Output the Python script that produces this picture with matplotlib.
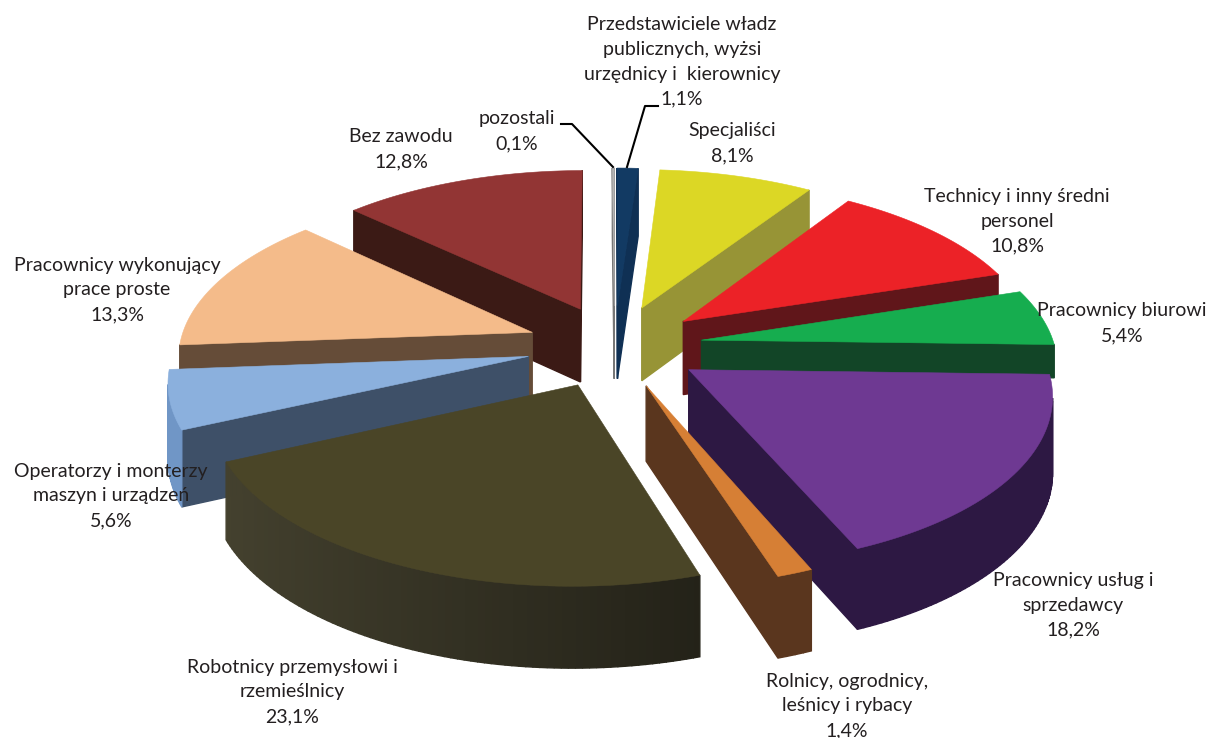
import numpy as np
from matplotlib import pyplot as plt
from matplotlib.colors import to_rgb

names = ['Przedstawiciele władz\npublicznych, wyżsi\nurzędnicy i  kierownicy', 'Specjaliści',
         'Technicy i inny średni\npersonel', 'Pracownicy biurowi', 'Pracownicy usług i\nsprzedawcy',
         'Rolnicy, ogrodnicy,\nleśnicy i rybacy', 'Robotnicy przemysłowi i\nrzemieślnicy',
         'Operatorzy i monterzy\nmaszyn i urządzeń', 'Pracownicy wykonujący\nprace proste',
         'Bez zawodu', 'pozostali']
values = [1.1, 8.1, 10.8, 5.4, 18.2, 1.4, 23.1, 5.6, 13.3, 12.8, 0.1]
top_colors = ['#123a63', '#dcd725', '#ec2227', '#16ad4f', '#6e3992', '#d67f35',
              '#4a4527', '#8bb0dd', '#f4bb8a', '#923534', '#b5b5b5']
wall_colors = ['#0f3054', '#979436', '#60161a', '#124527', '#2d1843', '#5a361e',
               '#2e2b1c', '#3e5068', '#654c38', '#3b1a15', '#777777']
arc_colors = ['#123a63', '#979436', '#60161a', '#124527', '#2d1843', '#5a361e',
              '#2c2a1e', '#7096c6', '#654c38', '#3b1a15', '#777777']
arc_shade = [0, 0, 0, 0, 0, 0, 0.6, 0, 0, 0, 0]
wall_depth = [1, 1, 1, 0.45, 1, 1, 1, 1, 1, 1, 1]
label_pos = [(682, 62), (732, 143), (1017, 221), (1122, 323), (1073, 605),
             (847, 706), (292, 692), (111, 496), (117, 290), (401, 149), (517, 131)]

# projection of the pie, fitted by eye to the picture
cx, cy = 614.5, 346
rx, ry = 353, 165
persp = 0.127
explode = 0.25
depth = 74


def project(x, y, z=0.0):
    s = 1 / (1 + persp * y)
    return cx + rx * x * s, cy - ry * y * s + depth * z * s ** 0.6


def shade(color, f):
    return tuple(min(1, c * f) for c in to_rgb(color))


plt.rcParams['font.family'] = ['Lato', 'DejaVu Sans']
fig = plt.figure(figsize=(12.08, 7.38), dpi=100)
ax = fig.add_axes([0, 0, 1, 1])
ax.set_xlim(0, 1208)
ax.set_ylim(738, 0)
ax.axis('off')

edges = np.cumsum([0] + values) / sum(values) * 2 * np.pi
mids = (edges[:-1] + edges[1:]) / 2

for i in np.argsort(-np.cos(mids)):
    ox, oy = explode * np.sin(mids[i]), explode * np.cos(mids[i])
    n = max(4, int((edges[i + 1] - edges[i]) * 60))
    th = np.linspace(edges[i], edges[i + 1], n)
    wx = np.r_[ox, ox + np.sin(th)]
    wy = np.r_[oy, oy + np.cos(th)]
    z = wall_depth[i]

    for j in range(len(wx)):
        k = (j + 1) % len(wx)
        ax_, ay_ = project(wx[j], wy[j])
        bx_, by_ = project(wx[k], wy[k])
        cx_, cy_ = project(wx[k], wy[k], z)
        dx_, dy_ = project(wx[j], wy[j], z)
        px = [ax_, bx_, cx_, dx_]
        py = [ay_, by_, cy_, dy_]
        area = sum(px[a] * py[(a + 1) % 4] - px[(a + 1) % 4] * py[a] for a in range(4))
        if area >= 0:
            continue
        if j == 0 or j == len(wx) - 1:
            col = wall_colors[i]
        else:
            col = shade(arc_colors[i], 1 - arc_shade[i] * np.sin(th[j - 1]))
        ax.fill(px, py, color=col, lw=1.0)

    tx, ty = project(wx, wy)
    ax.fill(tx, ty, color=top_colors[i], lw=0.4)

# leader lines of the two thin slices
ax.plot([658, 645, 627], [106, 106, 167], color='black', lw=1.5)
ax.plot([561, 572, 613], [124, 124, 167], color='black', lw=1.5)

for name, val, pos in zip(names, values, label_pos):
    txt = name + '\n' + f'{val:.1f}'.replace('.', ',') + '%'
    ax.text(pos[0], pos[1], txt, ha='center', va='center', fontsize=14,
            color='#231f20', linespacing=1.56)

fig.savefig('out.png', dpi=100)
